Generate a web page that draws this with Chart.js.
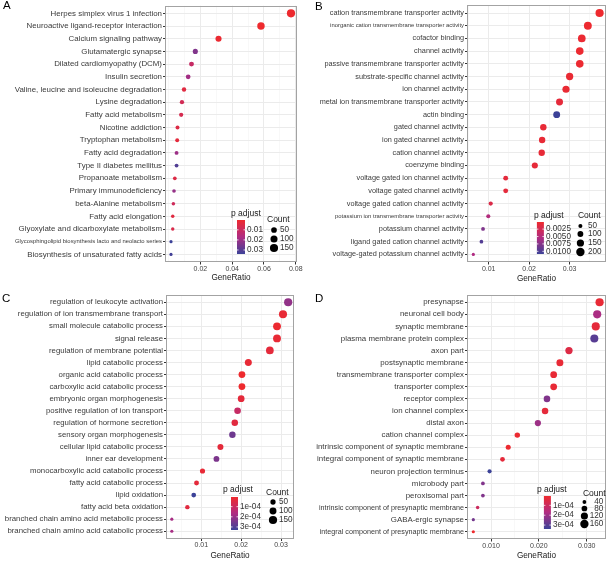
<!DOCTYPE html>
<html>
<head>
<meta charset="utf-8">
<script src="https://cdn.jsdelivr.net/npm/chart.js@4.4.1/dist/chart.umd.min.js"></script>
<style>
html, body { margin: 0; padding: 0; background: #fff; }
#wrap { position: relative; width: 610px; height: 563px; overflow: hidden; font-family: "Liberation Sans", Arial, sans-serif; }
#wrap canvas { position: absolute; left: 0; top: 0; }
.tag { position: absolute; font-size: 11.5px; line-height: 1; color: #000; }
</style>
</head>
<body>
<div id="wrap">
  <canvas id="panelA" width="610" height="563"></canvas>
  <canvas id="panelB" width="610" height="563"></canvas>
  <canvas id="panelC" width="610" height="563"></canvas>
  <canvas id="panelD" width="610" height="563"></canvas>
  <div class="tag" style="left:3px;top:0px">A</div>
  <div class="tag" style="left:315px;top:1px">B</div>
  <div class="tag" style="left:2px;top:293px">C</div>
  <div class="tag" style="left:315px;top:293px">D</div>
</div>
<script>
const FONT = '"Liberation Sans", Arial, Helvetica, sans-serif';

// A - KEGG
const termsA = [
  'Herpes simplex virus 1 infection', 'Neuroactive ligand-receptor interaction', 'Calcium signaling pathway',
  'Glutamatergic synapse', 'Dilated cardiomyopathy (DCM)', 'Insulin secretion',
  'Valine, leucine and isoleucine degradation', 'Lysine degradation', 'Fatty acid metabolism',
  'Nicotine addiction', 'Tryptophan metabolism', 'Fatty acid degradation', 'Type II diabetes mellitus',
  'Propanoate metabolism', 'Primary immunodeficiency', 'beta-Alanine metabolism', 'Fatty acid elongation',
  'Glyoxylate and dicarboxylate metabolism', 'Glycosphingolipid biosynthesis lacto and neolacto series',
  'Biosynthesis of unsaturated fatty acids'
];
const ratioA = [0.0770, 0.0581, 0.0314, 0.0168, 0.0144, 0.0123, 0.0097, 0.0084, 0.0079, 0.0056,
                0.0054, 0.0050, 0.0050, 0.0039, 0.0034, 0.0030, 0.0026, 0.0026, 0.0015, 0.0015];
const countA = [154, 116, 63, 34, 29, 25, 19, 17, 16, 11, 11, 10, 10, 8, 7, 6, 5, 5, 3, 3];
const padjA = [0.0004, 0.0002, 0.0010, 0.024, 0.011, 0.019, 0.004, 0.008, 0.007, 0.005,
               0.003, 0.020, 0.031, 0.005, 0.021, 0.009, 0.004, 0.006, 0.034, 0.033];
const xTicksA = [0.02, 0.04, 0.06, 0.08];
const padjTicksA = [0.01, 0.02, 0.03];
const countKeysA = [50, 100, 150];

// B - GO MF
const termsB = [
  'cation transmembrane transporter activity', 'inorganic cation transmembrane transporter activity',
  'cofactor binding', 'channel activity', 'passive transmembrane transporter activity',
  'substrate-specific channel activity', 'ion channel activity', 'metal ion transmembrane transporter activity',
  'actin binding', 'gated channel activity', 'ion gated channel activity', 'cation channel activity',
  'coenzyme binding', 'voltage gated ion channel activity', 'voltage gated channel activity',
  'voltage gated cation channel activity', 'potassium ion transmembrane transporter activity',
  'potassium channel activity', 'ligand gated cation channel activity', 'voltage-gated potassium channel activity'
];
const ratioB = [0.0374, 0.0345, 0.0330, 0.0325, 0.0325, 0.0300, 0.0291, 0.0275, 0.0268, 0.0235,
                0.0232, 0.0231, 0.0214, 0.0142, 0.0142, 0.0105, 0.0099, 0.0086, 0.0082, 0.0062];
const countB = [191, 176, 168, 166, 166, 153, 148, 140, 137, 120, 118, 118, 109, 72, 72, 54, 50, 44, 42, 32];
const padjB = [0.0001, 0.0002, 0.0004, 0.0003, 0.0003, 0.0005, 0.0005, 0.0009, 0.0109, 0.0006,
               0.0006, 0.0007, 0.0008, 0.0010, 0.0010, 0.0018, 0.0052, 0.0078, 0.0098, 0.0055];
const xTicksB = [0.01, 0.02, 0.03];
const padjTicksB = [0.0025, 0.0050, 0.0075, 0.0100];
const countKeysB = [50, 100, 150, 200];

// C - GO BP
const termsC = [
  'regulation of leukocyte activation', 'regulation of ion transmembrane transport', 'small molecule catabolic process',
  'signal release', 'regulation of membrane potential', 'lipid catabolic process', 'organic acid catabolic process',
  'carboxylic acid catabolic process', 'embryonic organ morphogenesis', 'positive regulation of ion transport',
  'regulation of hormone secretion', 'sensory organ morphogenesis', 'cellular lipid catabolic process',
  'inner ear development', 'monocarboxylic acid catabolic process', 'fatty acid catabolic process',
  'lipid oxidation', 'fatty acid beta oxidation', 'branched chain amino acid metabolic process',
  'branched chain amino acid catabolic process'
];
const ratioC = [0.0318, 0.0305, 0.0290, 0.0290, 0.0272, 0.0218, 0.0202, 0.0202, 0.0200, 0.0191,
                0.0184, 0.0178, 0.0148, 0.0138, 0.0103, 0.0088, 0.0081, 0.0065, 0.0026, 0.0026];
const countC = [149, 143, 136, 136, 128, 102, 95, 95, 94, 90, 86, 84, 70, 65, 48, 41, 38, 31, 12, 12];
const padjC = [0.00021, 0.00002, 0.00001, 0.00002, 0.00003, 0.00002, 0.000005, 0.000005, 0.00003, 0.00011,
               0.00004, 0.00026, 0.00003, 0.00024, 0.00002, 0.00003, 0.00033, 0.00004, 0.00018, 0.00018];
const xTicksC = [0.01, 0.02, 0.03];
const padjTicksC = [1e-4, 2e-4, 3e-4];
const countKeysC = [50, 100, 150];

// D - GO CC
const termsD = [
  'presynapse', 'neuronal cell body', 'synaptic membrane', 'plasma membrane protein complex', 'axon part',
  'postsynaptic membrane', 'transmembrane transporter complex', 'transporter complex', 'receptor complex',
  'ion channel complex', 'distal axon', 'cation channel complex', 'intrinsic component of synaptic membrane',
  'integral component of synaptic membrane', 'neuron projection terminus', 'microbody part', 'peroxisomal part',
  'intrinsic component of presynaptic membrane', 'GABA-ergic synapse', 'integral component of presynaptic membrane'
];
const ratioD = [0.0327, 0.0322, 0.0319, 0.0316, 0.0263, 0.0244, 0.0231, 0.0231, 0.0217, 0.0213,
                0.0198, 0.0155, 0.0136, 0.0124, 0.0097, 0.0083, 0.0083, 0.0072, 0.0063, 0.0063];
const countD = [155, 153, 152, 150, 125, 116, 110, 110, 103, 101, 94, 74, 65, 59, 46, 39, 39, 34, 30, 30];
const padjD = [0.00002, 0.00018, 0.00003, 0.00030, 0.00005, 0.00002, 0.00002, 0.00002, 0.00024, 0.00003,
               0.00020, 0.00001, 0.00001, 0.00003, 0.00034, 0.00024, 0.00024, 0.00010, 0.00026, 0.000005];
const xTicksD = [0.01, 0.02, 0.03];
const padjTicksD = [1e-4, 2e-4, 3e-4];
const countKeysD = [40, 80, 120, 160];

// red (low p) -> magenta -> blue (high p)
const RED = [238, 42, 46], MID = [176, 44, 130], BLUE = [60, 66, 152];

function mix(a, b, t) {
    return a.map((v, i) => Math.round(v + (b[i] - v) * t));
}

function padjColor(t) {
    t = Math.max(0, Math.min(1, t));
    const c = t < 0.5 ? mix(RED, MID, t * 2) : mix(MID, BLUE, (t - 0.5) * 2);
    return `rgb(${c[0]},${c[1]},${c[2]})`;
}

function sci(v) {
    const e = Math.floor(Math.log10(v) + 1e-9);
    return Math.round(v / Math.pow(10, e)) + 'e-' + String(-e).padStart(2, '0');
}

function makePanel(id, p) {
    const lo = Math.min(...p.ratio), hi = Math.max(...p.ratio);
    const xMin = lo - (hi - lo) * 0.05, xMax = hi + (hi - lo) * 0.05;
    const pMin = Math.min(...p.padj), pMax = Math.max(...p.padj);
    const sLo = Math.sqrt(Math.min(...p.count)), sHi = Math.sqrt(Math.max(...p.count));
    const radius = c => 1.6 + 2.5 * (Math.sqrt(c) - sLo) / (sHi - sLo);
    const colorOf = v => padjColor((v - pMin) / (pMax - pMin));

    // major ticks plus ggplot-style minor breaks
    const step = p.xTicks[1] - p.xTicks[0];
    const m = p.xTicks.length;
    const xt = [];
    for (let k = -2; k <= 2 * m; k++) {
        const v = +(p.xTicks[0] + k * step / 2).toFixed(6);
        if (v < xMin || v > xMax) continue;
        const major = k >= 0 && k % 2 === 0 && k / 2 < m;
        xt.push({ value: v, minor: !major });
    }

    const b = p.box;
    const Y_W = Math.min(b.left, 166);   // wide enough so long labels are not clipped
    const titleSize = 8.2;
    const axisBottom = b.titleY + titleSize * 0.6;

    const decor = {
        id: 'decor' + id,
        afterDatasetsDraw(chart) {
            const { ctx, chartArea: a } = chart;
            ctx.save();
            ctx.strokeStyle = '#A3A3A3';
            ctx.lineWidth = 1;
            ctx.strokeRect(Math.round(a.left) + 0.5, Math.round(a.top) + 0.5,
                           Math.round(a.width) - 1, Math.round(a.height) - 1);
            ctx.restore();
        },
        afterDraw(chart) {
            const { ctx, chartArea: a } = chart;
            const L = p.leg, R = a.right, B = a.bottom;
            ctx.save();
            ctx.textBaseline = 'middle';
            ctx.textAlign = 'left';

            // p adjust colourbar
            ctx.font = `8.5px ${FONT}`;
            ctx.fillStyle = '#1A1A1A';
            ctx.fillText('p adjust', R + L.pTitle[0], B + L.pTitle[1]);
            const bx = R + L.bar[0], by = B + L.bar[1], bw = L.bar[2], bh = L.bar[3];
            const g = ctx.createLinearGradient(0, by, 0, by + bh);
            for (let k = 0; k <= 20; k++) g.addColorStop(k / 20, padjColor(k / 20));
            ctx.fillStyle = g;
            ctx.fillRect(bx, by, bw, bh);
            ctx.font = `8.2px ${FONT}`;
            p.padjTicks.forEach(v => {
                const y = by + bh * (v - pMin) / (pMax - pMin);
                ctx.strokeStyle = '#fff';
                ctx.lineWidth = 0.8;
                ctx.beginPath();
                ctx.moveTo(bx, y); ctx.lineTo(bx + 1.5, y);
                ctx.moveTo(bx + bw - 1.5, y); ctx.lineTo(bx + bw, y);
                ctx.stroke();
                ctx.fillStyle = '#333';
                ctx.fillText(p.padjFmt(v), R + L.pLabel, y);
            });

            // Count size legend
            ctx.font = `8.5px ${FONT}`;
            ctx.fillStyle = '#1A1A1A';
            ctx.fillText('Count', R + L.cTitle[0], B + L.cTitle[1]);
            ctx.font = `8.2px ${FONT}`;
            ctx.textAlign = L.cAlign || 'left';
            p.countKeys.forEach((c, k) => {
                const y = B + L.rows[k];
                ctx.fillStyle = '#000';
                ctx.beginPath();
                ctx.arc(R + L.cx, y, radius(c), 0, Math.PI * 2);
                ctx.fill();
                ctx.fillStyle = '#333';
                ctx.fillText(String(c), R + L.cLabel, y);
            });
            ctx.restore();
        }
    };

    new Chart(document.getElementById(id), {
        type: 'scatter',
        data: {
            datasets: [{
                data: p.ratio.map((r, i) => ({ x: r, y: i + 1 })),
                pointRadius: p.count.map(radius),
                pointHoverRadius: p.count.map(radius),
                pointBackgroundColor: p.padj.map(colorOf),
                pointBorderWidth: 0,
                pointBorderColor: 'rgba(0,0,0,0)'
            }]
        },
        options: {
            responsive: false,
            animation: false,
            devicePixelRatio: 1,
            events: [],
            layout: {
                padding: { left: b.left - Y_W, top: b.top, right: 610 - b.right, bottom: 563 - axisBottom }
            },
            plugins: { legend: { display: false }, tooltip: { enabled: false } },
            scales: {
                x: {
                    type: 'linear',
                    min: xMin,
                    max: xMax,
                    afterBuildTicks: s => { s.ticks = xt.map(t => ({ value: t.value, minor: t.minor })); },
                    afterFit: s => { s.height = axisBottom - b.bottom; },
                    ticks: {
                        autoSkip: false,
                        maxRotation: 0,
                        padding: 0,
                        color: '#444',
                        font: { family: FONT, size: 7 },
                        callback: (v, i, ticks) => ticks[i].minor ? '' : v.toFixed(p.decimals)
                    },
                    grid: {
                        color: c => c.tick && c.tick.minor ? '#F4F4F4' : '#EBEBEB',
                        lineWidth: c => c.tick && c.tick.minor ? 0.6 : 1,
                        tickColor: c => c.tick && c.tick.minor ? 'rgba(0,0,0,0)' : '#333',
                        tickLength: 2.5
                    },
                    border: { display: false },
                    title: {
                        display: true,
                        text: 'GeneRatio',
                        color: '#1A1A1A',
                        padding: 0,
                        font: { family: FONT, size: titleSize }
                    }
                },
                y: {
                    type: 'linear',
                    reverse: true,
                    min: 0.4,
                    max: p.terms.length + 0.6,
                    afterBuildTicks: s => { s.ticks = p.terms.map((t, i) => ({ value: i + 1 })); },
                    afterFit: s => { s.width = Y_W; },
                    ticks: {
                        autoSkip: false,
                        padding: 1,
                        color: '#3A3A3A',
                        font: c => ({ family: FONT, size: p.smallLabels[c.index] || p.labelSize }),
                        callback: v => p.terms[Math.round(v) - 1]
                    },
                    grid: { color: '#EBEBEB', lineWidth: 1, tickLength: 2, tickColor: '#333' },
                    border: { display: false }
                }
            }
        },
        plugins: [decor]
    });
}

makePanel('panelA', {
    terms: termsA, ratio: ratioA, count: countA, padj: padjA,
    xTicks: xTicksA, decimals: 2, padjTicks: padjTicksA, padjFmt: v => v.toFixed(2), countKeys: countKeysA,
    box: { left: 165, right: 297, top: 5, bottom: 262, titleY: 278 },
    labelSize: 7.9, smallLabels: { 18: 5.9 },
    leg: { pTitle: [-66, -48], bar: [-60, -42, 8, 34], pLabel: -50,
           cTitle: [-30, -42], cx: -23, rows: [-32, -23, -14], cLabel: -17 }
});

makePanel('panelB', {
    terms: termsB, ratio: ratioB, count: countB, padj: padjB,
    xTicks: xTicksB, decimals: 2, padjTicks: padjTicksB, padjFmt: v => v.toFixed(4), countKeys: countKeysB,
    box: { left: 467, right: 608, top: 5, bottom: 262, titleY: 279 },
    labelSize: 7.3, smallLabels: { 1: 5.9, 16: 5.9 },
    leg: { pTitle: [-72, -46], bar: [-69, -40, 7, 32], pLabel: -60,
           cTitle: [-28, -46], cx: -25.5, rows: [-36, -28, -19, -10], cLabel: -18 }
});

makePanel('panelC', {
    terms: termsC, ratio: ratioC, count: countC, padj: padjC,
    xTicks: xTicksC, decimals: 2, padjTicks: padjTicksC, padjFmt: sci, countKeys: countKeysC,
    box: { left: 166, right: 294, top: 295, bottom: 538.5, titleY: 556 },
    labelSize: 7.8, smallLabels: {},
    leg: { pTitle: [-71, -48.5], bar: [-63, -41.5, 7, 33], pLabel: -54,
           cTitle: [-28, -45.5], cx: -21, rows: [-36.5, -27.5, -18.5], cLabel: -15 }
});

makePanel('panelD', {
    terms: termsD, ratio: ratioD, count: countD, padj: padjD,
    xTicks: xTicksD, decimals: 3, padjTicks: padjTicksD, padjFmt: sci, countKeys: countKeysD,
    box: { left: 467, right: 607, top: 295, bottom: 539, titleY: 556 },
    labelSize: 7.9, smallLabels: { 17: 7.2, 19: 7.2 },
    leg: { pTitle: [-69, -49], bar: [-62, -43, 7, 33], pLabel: -53,
           cTitle: [-23, -45], cx: -21.5, rows: [-37, -30.5, -23, -15], cLabel: -2.5, cAlign: 'right' }
});
</script>
</body>
</html>
